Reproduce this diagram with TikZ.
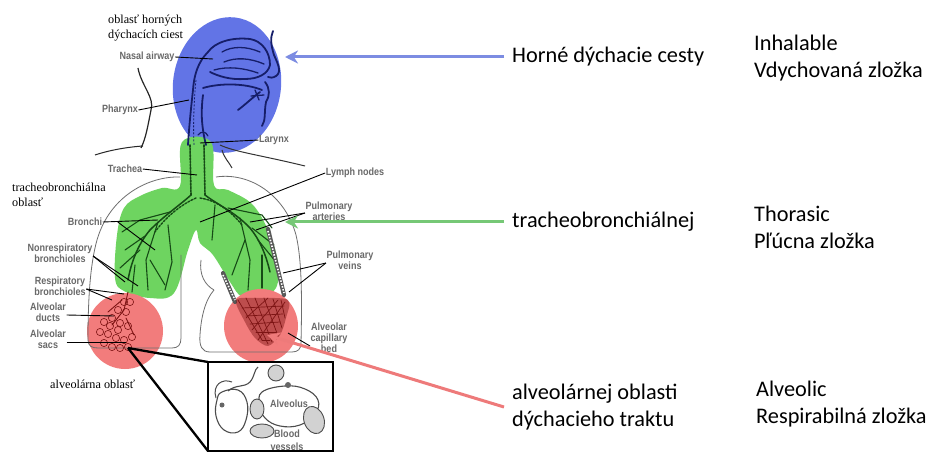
\documentclass[tikz,border=0pt]{standalone}
\usepackage{fontspec}
\setmainfont{Liberation Serif}
\newfontfamily\calfont{Carlito}
\newfontfamily\labfont[FakeStretch=0.86]{Liberation Sans}
\usetikzlibrary{arrows.meta}
\definecolor{blueR}{RGB}{98,116,230}
\definecolor{greenR}{RGB}{110,212,96}
\definecolor{redR}{RGB}{242,124,124}
\definecolor{blueA}{RGB}{124,140,226}
\definecolor{greenA}{RGB}{118,200,118}
\definecolor{redA}{RGB}{238,122,122}
\definecolor{navy}{RGB}{22,30,105}
\definecolor{dgreen}{RGB}{22,75,22}
\definecolor{dred}{RGB}{125,20,20}
\definecolor{labgray}{RGB}{105,105,105}
\definecolor{lunggray}{RGB}{110,110,110}
\begin{document}
\begin{tikzpicture}[x=1pt,y=-1pt,
  rtext/.style={font=\calfont\fontsize{22.3}{27}\selectfont, anchor=west, align=left, inner sep=0},
  glabel/.style={font=\labfont\bfseries\fontsize{10.5}{10.8}\selectfont, text=labgray, align=center, inner sep=0.5},
  slabel/.style={font=\fontsize{12.2}{15}\selectfont, align=left, inner sep=0, anchor=west},
  leader/.style={draw=black, line width=0.9},
  callout/.style={line width=3, -{Stealth[length=13, width=13]}},
  outline/.style={draw=lunggray, line width=0.8},
  headline/.style={draw=navy, line width=1.8, line cap=round},
  branch/.style={draw=dgreen, line width=1.1, line cap=round},
  rbranch/.style={draw=dred, line width=0.9, line cap=round},
  zoomline/.style={draw=black, line width=2.3},
  vessel/.style={fill=gray!35, draw=black!70, line width=0.9}
]
\useasboundingbox (0,0) rectangle (943,465);
\fill[white] (0,0) rectangle (943,465);

% ---------- coloured regions ----------
\fill[blueR] (227,85) ellipse [x radius=54, y radius=68, rotate=-7];
\fill[greenR] plot[smooth cycle, tension=0.6] coordinates {
  (182,142) (211,142) (214,185) (228,190) (252,204) (268,230) (278,262)
  (276,288) (260,298) (242,297) (230,282) (213,255) (200,243) (196,230)
  (188,250) (174,293) (150,298) (124,291) (115,278) (117,235) (124,208)
  (140,196) (162,188) (180,186)};
\fill[redR] (125,331) circle (38);
\fill[redR] (261,326) circle (37);

% ---------- head outline ----------
\draw[draw=black!85, line width=1.2] (138,68) .. controls (141,85) and (155,98) .. (151,110)
  .. controls (148,125) and (146,138) .. (141,148);
\draw[draw=black!85, line width=1.0] (95,155) .. controls (110,150) and (128,147) .. (143,146);
\draw[draw=black!80, line width=1.0] (220,145) .. controls (235,152) and (260,155) .. (305,166);
\draw[draw=black!80, line width=1.0] (222,150) .. controls (224,158) and (229,162) .. (232,168);

% ---------- head drawing (navy) ----------
\draw[headline] (273,31) .. controls (270,38) and (271,45) .. (274,55)
  .. controls (278,64) and (282,72) .. (276,76) .. controls (273,78) and (270,78) .. (268,77);
\draw[headline] (208,52) .. controls (215,42) and (232,37) .. (250,39)
  .. controls (262,41) and (270,52) .. (270,65) .. controls (268,74) and (258,79) .. (245,79)
  .. controls (230,80) and (218,76) .. (210,72);
\draw[headline, line width=1.3] (222,52) .. controls (232,46) and (246,46) .. (260,52);
\draw[headline, line width=1.3] (224,62) .. controls (236,57) and (250,58) .. (264,64);
\draw[headline, line width=1.3] (214,70) .. controls (228,66) and (244,68) .. (258,73);
\draw[headline] (208,52) .. controls (198,62) and (194,75) .. (193,90)
  .. controls (191,108) and (189,128) .. (188,145);
\draw[headline] (203,88) .. controls (220,83) and (245,83) .. (262,90);
\draw[headline] (203,95) .. controls (201,110) and (201,125) .. (206,145);
\draw[headline] (238,110) .. controls (246,104) and (252,98) .. (260,92);
\draw[headline, line width=1.3] (255,90) -- (259,100);
\draw[headline, line width=1.3] (251,96) -- (264,95);
\draw[headline] (265,82) .. controls (270,88) and (270,96) .. (266,102)
  .. controls (264,112) and (266,120) .. (262,126);
\draw[headline, line width=1.2] (198,135) .. controls (201,131) and (206,131) .. (208,136);
\draw[navy, line width=0.8, dash pattern=on 2pt off 1.5pt] (196,80) .. controls (194,100) and (193,125) .. (194,145);

% ---------- lung outlines ----------
\draw[outline] (180,177) .. controls (150,176) and (110,195) .. (97,240)
  .. controls (90,265) and (88,300) .. (88,340) .. controls (88,346) and (92,348) .. (98,348)
  -- (172,348) .. controls (178,348) and (181,345) .. (181,338) -- (181,255);
\draw[outline] (216,177) .. controls (250,172) and (285,195) .. (296,235)
  .. controls (302,260) and (302,300) .. (301,343) .. controls (301,349) and (298,352) .. (292,352)
  -- (210,352) .. controls (202,352) and (199,346) .. (200,335)
  .. controls (201,318) and (205,300) .. (214,290);
\draw[outline] (201,260) .. controls (199,275) and (205,285) .. (214,290);

% ---------- bronchial tree ----------
\draw[branch, dash pattern=on 2pt off 1.2pt, line width=1.6] (190,145) -- (191,195);
\draw[branch, dash pattern=on 2pt off 1.2pt, line width=1.6] (204,145) -- (205,195);
\draw[branch, line width=1.5] (191,195) .. controls (180,205) and (165,215) .. (150,230)
  .. controls (140,242) and (132,258) .. (128,280);
\draw[branch, line width=1.5] (205,195) .. controls (218,205) and (235,212) .. (250,228)
  .. controls (260,240) and (266,255) .. (270,272);
\draw[branch] (170,212) -- (140,220) -- (122,232);
\draw[branch] (158,222) -- (146,260) -- (148,290);
\draw[branch] (145,236) -- (125,250);
\draw[branch] (140,250) -- (120,268);
\draw[branch] (150,260) -- (165,285);
\draw[branch] (135,265) -- (132,292);
\draw[branch] (168,225) -- (172,262) -- (165,290);
\draw[branch] (228,208) -- (262,215) -- (272,228);
\draw[branch] (240,218) -- (250,260) -- (248,290);
\draw[branch] (252,228) -- (274,245);
\draw[branch] (258,240) -- (276,262);
\draw[branch] (245,240) -- (232,275);
\draw[branch] (262,255) -- (262,288);
\draw[branch] (215,205) -- (212,240);
\draw[branch, dash pattern=on 2pt off 1.5pt, line width=1.4] (200,198) .. controls (215,200) and (230,210) .. (242,225);
\draw[branch, dash pattern=on 2pt off 1.5pt, line width=1.4] (196,198) .. controls (180,205) and (165,218) .. (155,232);

% ---------- pulmonary vessels ----------
\draw[black!65, line width=4.2, line cap=round] (268,229) -- (284,295);
\draw[white, line width=1.6, dash pattern=on 1.5pt off 1.5pt] (268,231) -- (284,293);
\draw[black!65, line width=4.2, line cap=round] (223,273) -- (235,302);
\draw[white, line width=1.6, dash pattern=on 1.5pt off 1.5pt] (223,275) -- (235,300);

% ---------- alveolar regions (dark red) ----------
\fill[dred, opacity=0.45] plot[smooth cycle, tension=0.5] coordinates {
  (236,300) (258,298) (288,300) (286,318) (280,335) (268,346) (255,338) (245,322)};
\foreach \a/\b/\c/\d in {238/300/262/340, 246/298/268/344, 255/298/272/342, 264/298/278/336, 273/299/282/328, 281/300/285/318,
    242/308/284/306, 246/316/283/314, 250/324/280/322, 256/332/276/332, 262/340/270/340,
    285/302/258/340, 278/300/252/330, 268/298/246/318}
  \draw[rbranch, line width=0.7] (\a,\b) -- (\c,\d);
\draw[rbranch] (128,292) -- (124,310) -- (112,325);
\draw[rbranch] (122,300) -- (108,312);
\draw[rbranch] (126,318) -- (134,335);
\foreach \p in {(104,322),(112,318),(120,323),(128,326),(100,332),(108,334),(116,338),(124,340),(132,337),(104,343),(112,347),(120,348),(128,347),(118,330),(110,326),(126,312),(118,310),(130,302),(124,302)}
  \draw[dred, line width=0.6] \p circle (3.6);

% ---------- zoom lines and inset ----------
\coordinate (zsrc) at (128,348);
\draw[zoomline] (zsrc) -- (208,362);
\draw[zoomline] (zsrc) -- (208,451);
\fill[white] (208,362) rectangle (333,451);
\begin{scope}
\clip (208,362) rectangle (333,451);
\draw[black!70, line width=1.1] plot[smooth cycle, tension=0.7] coordinates {
  (262,392) (285,386) (305,389) (318,400) (315,414) (300,425) (280,426) (265,418) (260,405)};
\draw[black!70, line width=1.1] plot[smooth cycle, tension=0.7] coordinates {
  (222,392) (238,390) (247,402) (246,420) (238,432) (224,430) (216,416) (217,400)};
\draw[black!70, line width=1.1] (228,391) .. controls (236,384) and (244,388) .. (250,382)
  .. controls (255,376) and (254,370) .. (258,367);
\draw[black!70, line width=1.0] (216,398) .. controls (212,385) and (222,378) .. (232,382);
\draw[vessel] (276,373) ellipse [x radius=8, y radius=8];
\draw[vessel] (257,409) ellipse [x radius=7, y radius=10];
\draw[vessel] (262,431) ellipse [x radius=12, y radius=7];
\draw[vessel] (314,420) ellipse [x radius=10, y radius=14, rotate=20];
\fill[black!60] (288,385) circle (3);
\fill[black!60] (222,405) circle (2.5);
\node[glabel] (alvl) at (289,404) {Alveolus};
\node[glabel] (blood) at (287,434) {Blood};
\node[glabel] (vess) at (287,447) {vessels};
\end{scope}
\draw[line width=2.5] (208,362) rectangle (333,451);

% ---------- serif labels ----------
\node[slabel] (lupper) at (108,28) {oblasť horných\\dýchacích ciest};
\node[slabel] (ltrach) at (12,195) {tracheobronchiálna\\oblasť};
\node[slabel] (lalv) at (50,384) {alveolárna oblasť};

% ---------- grey anatomical labels ----------
\node[glabel] (nasal) at (147,57) {Nasal airway};
\node[glabel] (phar) at (120,110) {Pharynx};
\node[glabel] (lar) at (274,140) {Larynx};
\node[glabel] (trac) at (125,169) {Trachea};
\node[glabel] (lymph) at (355,173) {Lymph nodes};
\node[glabel] (parts) at (329,211) {Pulmonary\\arteries};
\node[glabel] (pveins) at (350,260) {Pulmonary\\veins};
\node[glabel] (capb) at (329,338) {Alveolar\\capillary\\bed};
\node[glabel] (bron) at (85,222) {Bronchi};
\node[glabel] (nonr) at (60,253) {Nonrespiratory\\bronchioles};
\node[glabel] (resp) at (60,286) {Respiratory\\bronchioles};
\node[glabel] (ducts) at (48,312) {Alveolar\\ducts};
\node[glabel] (sacs) at (48,339) {Alveolar\\sacs};

\coordinate (tnasal) at (213,59);
\coordinate (tphar) at (189,100);
\coordinate (tlar) at (200,143);
\coordinate (ttrac) at (197,175);
\coordinate (tlymph) at (200,222);
\coordinate (tart1) at (250,222);
\coordinate (tart2) at (256,230);
\coordinate (tvein1) at (283,273);
\coordinate (tvein2) at (289,292);
\coordinate (tcap) at (288,333);
\coordinate (tbron1) at (158,220);
\coordinate (tbron2) at (155,250);
\coordinate (tnon1) at (125,282);
\coordinate (tnon2) at (138,286);
\coordinate (tres1) at (112,300);
\coordinate (tres2) at (124,294);
\coordinate (tduct) at (114,316);
\coordinate (tsac) at (126,342);

\draw[leader] (nasal.east) -- (tnasal);
\draw[leader] (phar.east) -- (tphar);
\draw[leader] (lar.west) -- (tlar);
\draw[leader] (trac.east) -- (ttrac);
\draw[leader] (lymph.west) -- (tlymph);
\draw[leader] ([yshift=-2]parts.west) -- (tart1);
\draw[leader] ([yshift=-2]parts.west) -- (tart2);
\draw[leader] ([yshift=-3]pveins.west) -- (tvein1);
\draw[leader] ([yshift=-3]pveins.west) -- (tvein2);
\draw[leader] ([yshift=-8]capb.west) -- (tcap);
\draw[leader] (bron.east) -- (tbron1);
\draw[leader] ([xshift=15]bron.east) -- (tbron2);
\draw[leader] ([yshift=-3]nonr.east) -- (tnon1);
\draw[leader] ([yshift=-3]nonr.east) -- (tnon2);
\draw[leader] ([yshift=-3]resp.east) -- (tres1);
\draw[leader] ([yshift=-3]resp.east) -- (tres2);
\draw[leader] ([yshift=-3]ducts.east) -- (tduct);
\draw[leader] ([yshift=-3]sacs.east) -- (tsac);

% ---------- right-hand texts and callouts ----------
\node[rtext] (hor) at (512,57) {Horné dýchacie cesty};
\node[rtext] (tra) at (512,222) {tracheobronchiálnej};
\node[rtext] (alv) at (512,407) {alveolárnej oblasti\\dýchacieho traktu};
\node[rtext] (inh) at (754,58) {Inhalable\\Vdychovaná zložka};
\node[rtext] (tho) at (754,227) {Thorasic\\Pľúcna zložka};
\node[rtext] (alc) at (756,404) {Alveolic\\Respirabilná zložka};

\coordinate (hblue) at (285,57);
\coordinate (hgreen) at (285,222);
\coordinate (hred) at (267,335);
\draw[callout, blueA] ([xshift=-8]hor.west) -- (hblue);
\draw[callout, greenA] ([xshift=-8]tra.west) -- (hgreen);
\draw[callout, redA] ([xshift=-8]alv.west) -- (hred);
\end{tikzpicture}
\end{document}
